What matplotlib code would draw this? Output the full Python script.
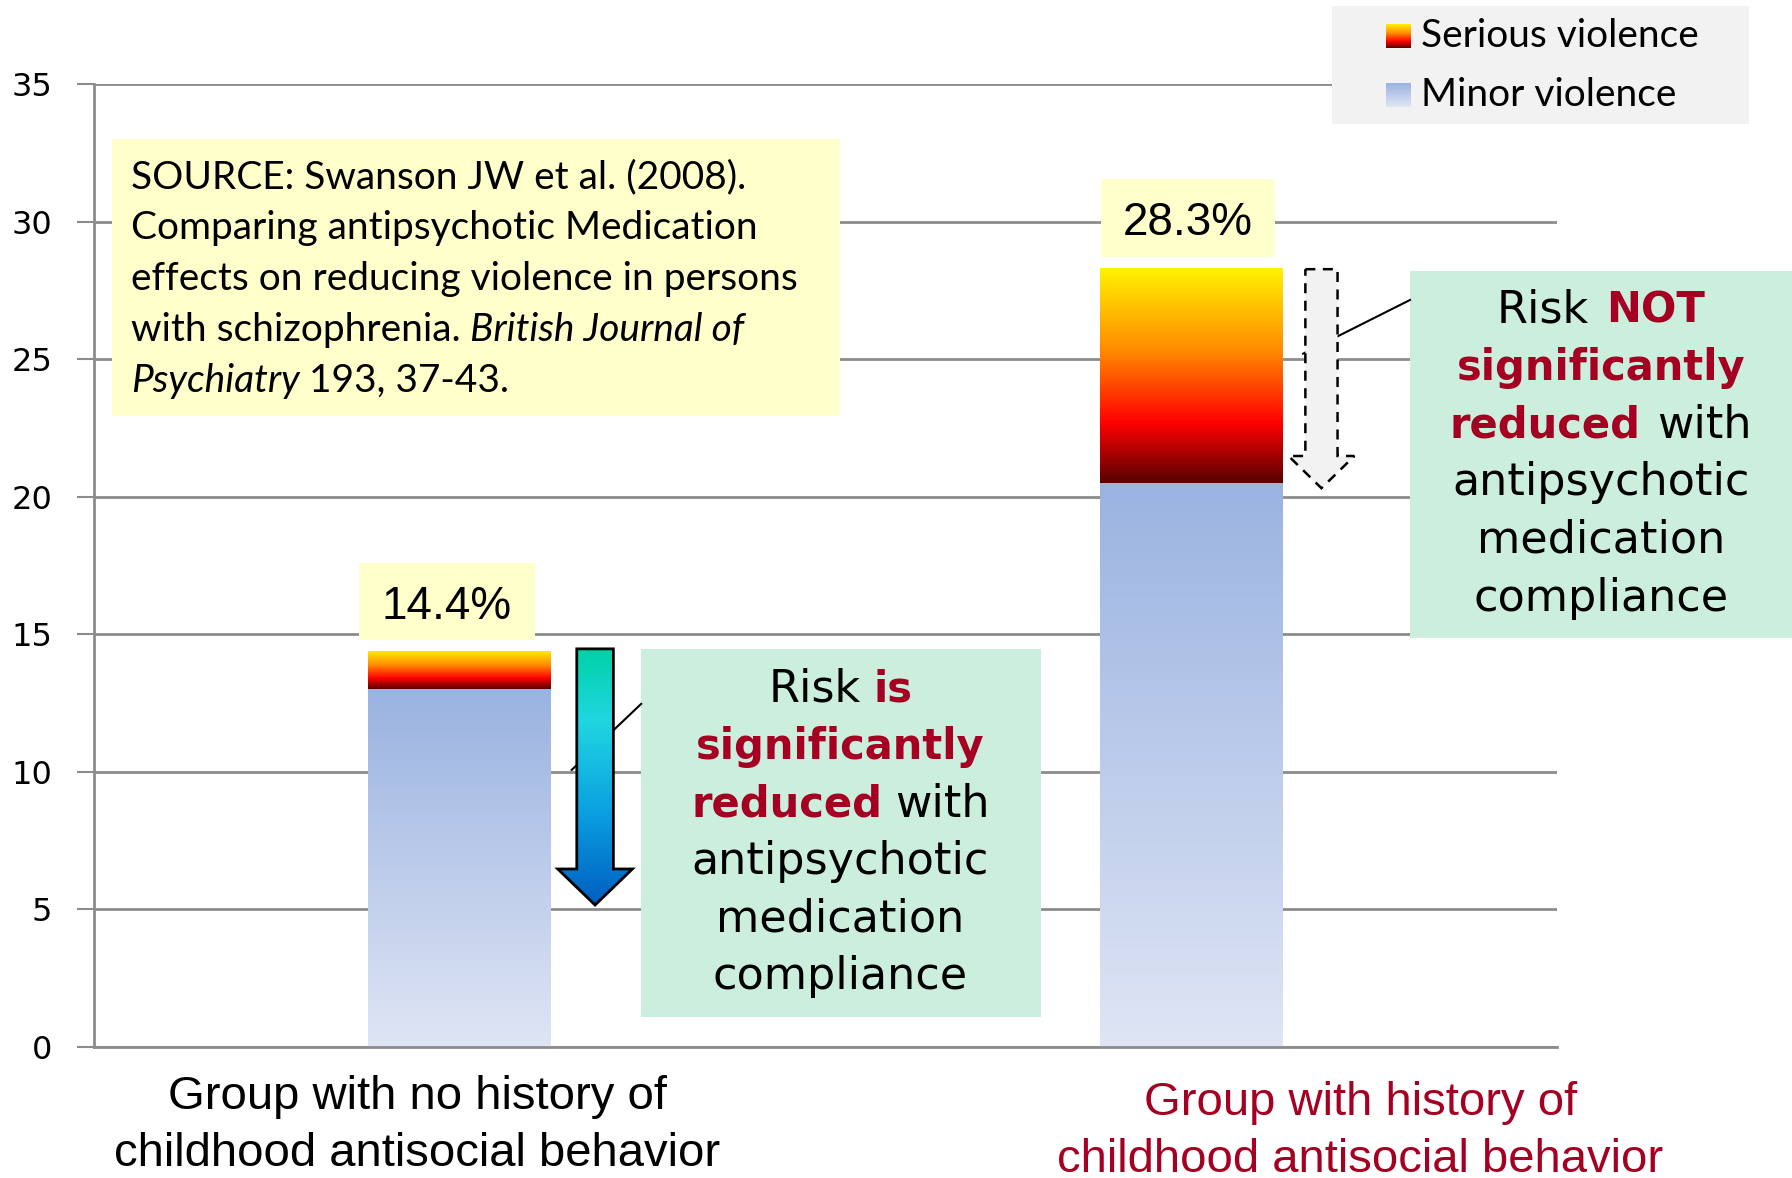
import matplotlib.pyplot as plt
import numpy as np
from matplotlib.colors import LinearSegmentedColormap
from matplotlib.patches import Rectangle, Polygon
from matplotlib.offsetbox import TextArea, HPacker, AnnotationBbox

# data
groups = ["Group with no history of\nchildhood antisocial behavior",
          "Group with history of\nchildhood antisocial behavior"]
minor = [13.0, 20.5]          # minor violence (%)
serious = [1.4, 7.8]          # serious violence (%)
total_labels = ["14.4%", "28.3%"]
yticks = [0, 5, 10, 15, 20, 25, 30, 35]
series = ["Serious violence", "Minor violence"]

RED = "#A50021"
GRID = "#8c8c8c"
YELLOW_BOX = "#FFFFCC"
GREEN_BOX = "#CCEEDD"

serious_cmap = LinearSegmentedColormap.from_list(
    "serious", [(0, "#580000"), (0.28, "#ff0000"), (0.62, "#ff8c00"), (1, "#fff200")])
minor_cmap = LinearSegmentedColormap.from_list("minor", ["#dfe5f4", "#9ab3e1"])
arrow_cmap = LinearSegmentedColormap.from_list(
    "arrow", [(0, "#005ec0"), (0.35, "#0a9ee0"), (0.72, "#20d6e0"), (1, "#00d2a6")])
grad = np.linspace(0, 1, 256).reshape(-1, 1)

fig = plt.figure(figsize=(17.92, 11.78), dpi=100)
ax = fig.add_axes([94 / 1792, 1 - 1047 / 1178, (1557 - 94) / 1792, (1047 - 84) / 1178])

x = np.arange(len(groups))
w = 0.25


def fill_gradient(rects, cmap):
    for r in rects:
        x0, y0 = r.get_x(), r.get_y()
        im = ax.imshow(grad, cmap=cmap, origin="lower", aspect="auto", zorder=2,
                       extent=[x0, x0 + r.get_width(), y0, y0 + r.get_height()])
        im.set_clip_path(r)


bars_minor = ax.bar(x, minor, w, color="none", edgecolor="none", zorder=2)
bars_serious = ax.bar(x, serious, w, bottom=minor, color="none", edgecolor="none", zorder=2)
fill_gradient(bars_minor, minor_cmap)
fill_gradient(bars_serious, serious_cmap)

# axes styling
ax.set_yticks(yticks)
ax.set_yticklabels([str(t) for t in yticks], fontsize=23, family="DejaVu Sans")
ax.tick_params(axis="y", length=12, width=1.5, color=GRID, pad=18)
ax.set_xticks([])
ax.yaxis.grid(True, color=GRID, lw=2)
ax.set_axisbelow(True)
for s in ["top", "right"]:
    ax.spines[s].set_visible(False)
ax.spines["left"].set_color(GRID)
ax.spines["left"].set_linewidth(2)
ax.spines["bottom"].set_color(GRID)
ax.spines["bottom"].set_linewidth(2)

# category labels (two lines each)
label_pos = [(-0.058, -1.82, "black"), (1.231, -2.04, RED)]
for lab, (lx, ly, col) in zip(groups, label_pos):
    for k, line in enumerate(lab.split("\n")):
        ax.text(lx, ly - k * 2.07, line, ha="center", va="center", fontsize=34,
                family="Liberation Sans", color=col, clip_on=False)

# total labels in yellow boxes
pct_boxes = [(-0.138, 14.8, 0.241, 2.79), (0.877, 28.72, 0.237, 2.83)]
for lab, (bx, by, bw, bh) in zip(total_labels, pct_boxes):
    ax.add_patch(Rectangle((bx, by), bw, bh, fc=YELLOW_BOX, ec="none", zorder=3))
    ax.text(bx + bw / 2, by + bh / 2 - 0.2, lab, ha="center", va="center", fontsize=33,
            family="Liberation Sans", zorder=4)


def rich_line(xc, yc, runs, fs, family, align, sep):
    areas = []
    for s, c, wt, st in runs:
        size = fs - 2 if wt == "bold" and family == "DejaVu Sans" else fs
        areas.append(TextArea(s, textprops=dict(color=c, fontweight=wt, fontstyle=st,
                                                fontsize=size, family=family)))
    box = HPacker(children=areas, align="baseline", pad=0, sep=sep)
    ab = AnnotationBbox(box, (xc, yc), xycoords="data", frameon=False,
                        box_alignment=(align, 0.5), pad=0, annotation_clip=False, zorder=6)
    ax.add_artist(ab)


# source box
ax.add_patch(Rectangle((-0.475, 22.94), 0.995, 10.06, fc=YELLOW_BOX, ec="none", zorder=3))
src_lines = [
    [("SOURCE: Swanson JW et al. (2008).", "black", "normal", "normal")],
    [("Comparing antipsychotic Medication", "black", "normal", "normal")],
    [("effects on reducing violence in persons", "black", "normal", "normal")],
    [("with schizophrenia.", "black", "normal", "normal"),
     ("British Journal of", "black", "normal", "italic")],
    [("Psychiatry", "black", "normal", "italic"),
     ("193, 37-43.", "black", "normal", "normal")],
]
for k, runs in enumerate(src_lines):
    rich_line(-0.4495, 31.62 - k * 1.85, runs, 28, "Lato", 0, 7)

# green comment boxes
left_lines = [
    [("Risk", "black", "normal", "normal"), ("is", RED, "bold", "normal")],
    [("significantly", RED, "bold", "normal")],
    [("reduced", RED, "bold", "normal"), ("with", "black", "normal", "normal")],
    [("antipsychotic", "black", "normal", "normal")],
    [("medication", "black", "normal", "normal")],
    [("compliance", "black", "normal", "normal")],
]
right_lines = [
    [("Risk", "black", "normal", "normal"), ("NOT", RED, "bold", "normal")],
    [("significantly", RED, "bold", "normal")],
    [("reduced", RED, "bold", "normal"), ("with", "black", "normal", "normal")],
    [("antipsychotic", "black", "normal", "normal")],
    [("medication", "black", "normal", "normal")],
    [("compliance", "black", "normal", "normal")],
]
ax.add_patch(Rectangle((0.248, 1.09), 0.547, 13.38, fc=GREEN_BOX, ec="none", zorder=3))
ax.add_patch(Rectangle((1.299, 14.87), 0.522, 13.33, fc=GREEN_BOX, ec="none", zorder=3,
                       clip_on=False))
for k, runs in enumerate(left_lines):
    rich_line(0.52, 7.78 + (2.5 - k) * 2.094, runs, 32, "DejaVu Sans", 0.5, 9)
for k, runs in enumerate(right_lines):
    rich_line(1.56, 21.55 + (2.5 - k) * 2.094, runs, 32, "DejaVu Sans", 0.5, 12)

# connector lines
ax.plot([0.153, 0.248], [10.07, 12.47], color="black", lw=1.5, zorder=3)
ax.plot([1.153, 1.299], [25.2, 27.15], color="black", lw=1.5, zorder=3, clip_on=False)


def arrow_poly(cx, shw, hhw, top, base, tip):
    return [(cx - shw, top), (cx + shw, top), (cx + shw, base), (cx + hhw, base),
            (cx, tip), (cx - hhw, base), (cx - shw, base)]


# left arrow: gradient filled
pts = arrow_poly(0.185, 0.025, 0.051, 14.47, 6.47, 5.16)
poly = Polygon(pts, closed=True, fc="none", ec="black", lw=2, zorder=5, joinstyle="miter")
ax.add_patch(poly)
im = ax.imshow(grad, cmap=arrow_cmap, origin="lower", aspect="auto", zorder=4,
               extent=[0.185 - 0.051, 0.185 + 0.051, 5.16, 14.47])
im.set_clip_path(poly)

# right arrow: dashed outline
pts = arrow_poly(1.178, 0.022, 0.045, 28.27, 21.48, 20.31)
ax.add_patch(Polygon(pts, closed=True, fc="#f2f2f2", ec="black", lw=1.8, ls=(0, (4, 3)),
                     zorder=4))

ax.set_xlim(-0.5, 1.5)
ax.set_ylim(0, 35)

# legend drawn in figure pixels
lg = fig.add_axes([0, 0, 1, 1], zorder=10)
lg.axis("off")
lg.add_patch(Rectangle((1332, 6), 417, 118, fc="#f2f2f2", ec="none", zorder=1))
for k, (name, cmap) in enumerate(zip(series, [serious_cmap, minor_cmap])):
    yc = 36 + k * 59
    lg.imshow(grad, cmap=cmap, origin="lower", aspect="auto", zorder=2,
              extent=[1386, 1411, yc + 12, yc - 12])
    lg.text(1421, yc, name, ha="left", va="center", fontsize=28, family="Lato", zorder=3)
lg.set_xlim(0, 1792)
lg.set_ylim(1178, 0)

fig.savefig("out.png", dpi=100)
